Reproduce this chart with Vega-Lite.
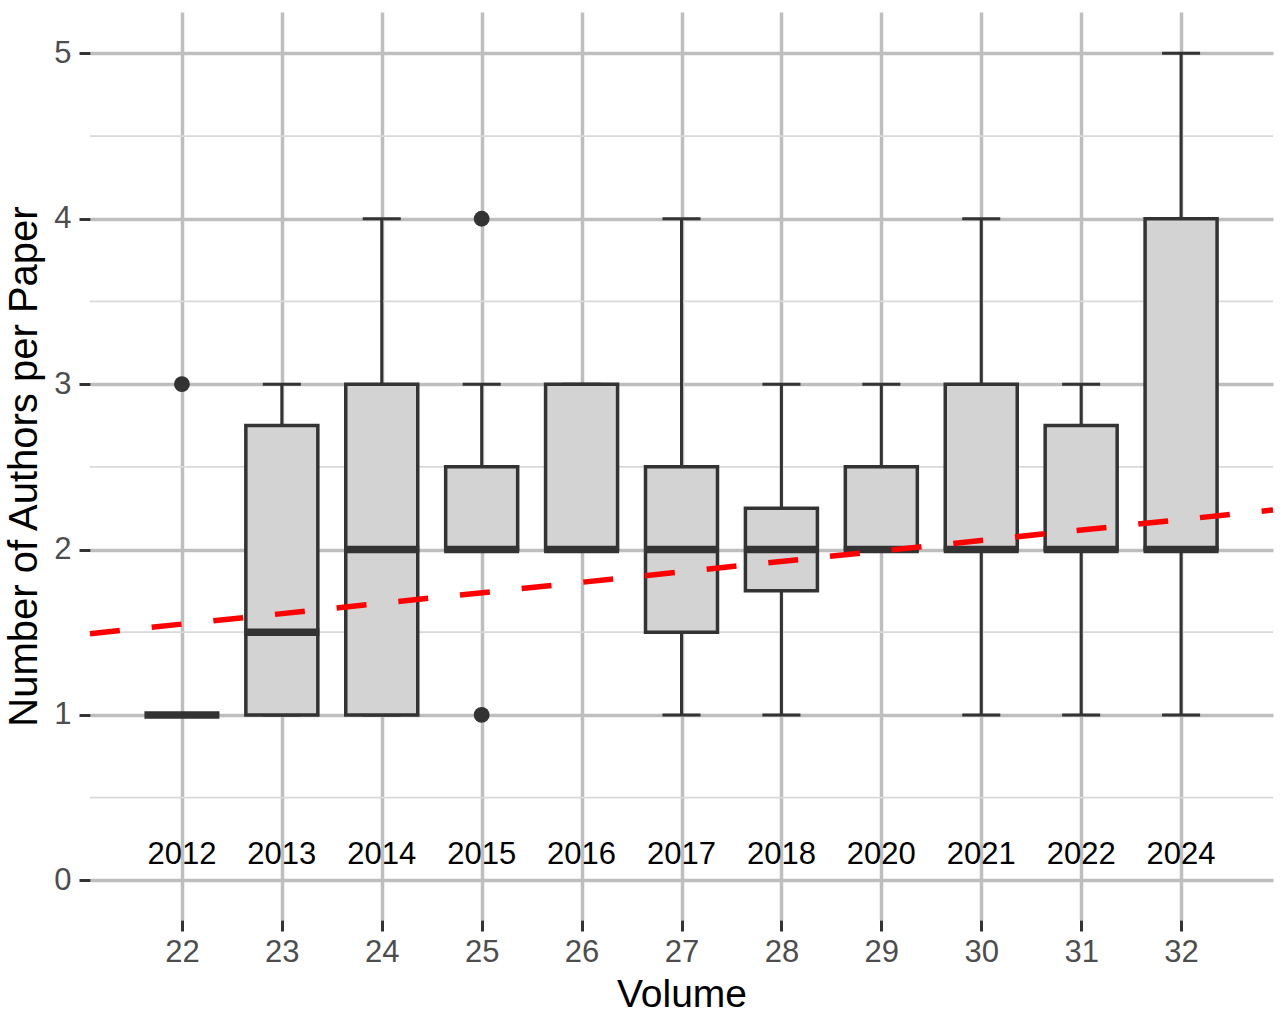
{
  "$schema": "https://vega.github.io/schema/vega-lite/v6.json",
  "width": 1183,
  "height": 908,
  "autosize": {"type": "none"},
  "padding": {"left": 90, "top": 12, "right": 12, "bottom": 96},
  "background": "white",
  "datasets": {
    "boxes": [
      {"volume": 22, "year": "2012", "lower": 1, "q1": 1, "median": 1, "q3": 1, "upper": 1},
      {"volume": 23, "year": "2013", "lower": 1, "q1": 1, "median": 1.5, "q3": 2.75, "upper": 3},
      {"volume": 24, "year": "2014", "lower": 1, "q1": 1, "median": 2, "q3": 3, "upper": 4},
      {"volume": 25, "year": "2015", "lower": 2, "q1": 2, "median": 2, "q3": 2.5, "upper": 3},
      {"volume": 26, "year": "2016", "lower": 2, "q1": 2, "median": 2, "q3": 3, "upper": 3},
      {"volume": 27, "year": "2017", "lower": 1, "q1": 1.5, "median": 2, "q3": 2.5, "upper": 4},
      {"volume": 28, "year": "2018", "lower": 1, "q1": 1.75, "median": 2, "q3": 2.25, "upper": 3},
      {"volume": 29, "year": "2020", "lower": 2, "q1": 2, "median": 2, "q3": 2.5, "upper": 3},
      {"volume": 30, "year": "2021", "lower": 1, "q1": 2, "median": 2, "q3": 3, "upper": 4},
      {"volume": 31, "year": "2022", "lower": 1, "q1": 2, "median": 2, "q3": 2.75, "upper": 3},
      {"volume": 32, "year": "2024", "lower": 1, "q1": 2, "median": 2, "q3": 4, "upper": 5}
    ],
    "outliers": [
      {"volume": 22, "authors": 3},
      {"volume": 25, "authors": 4},
      {"volume": 25, "authors": 1}
    ],
    "trend": [
      {"volume": 21.08, "fit": 1.491},
      {"volume": 32.92, "fit": 2.239}
    ],
    "minor": [
      {"authors": 0.5}, {"authors": 1.5}, {"authors": 2.5}, {"authors": 3.5}, {"authors": 4.5}
    ]
  },
  "layer": [
    {
      "data": {"name": "minor"},
      "mark": {"type": "rule", "color": "#D9D9D9", "strokeWidth": 1.8},
      "encoding": {
        "y": {"field": "authors", "type": "quantitative", "title": "Number of Authors per Paper",
              "scale": {"domain": [-0.24, 5.25], "nice": false, "zero": false, "padding": 0},
              "axis": {"values": [0, 1, 2, 3, 4, 5], "format": "d"}}
      }
    },
    {
      "data": {"name": "boxes"},
      "mark": {"type": "rule", "color": "#333333", "strokeWidth": 3},
      "encoding": {
        "x": {"field": "volume", "type": "quantitative", "title": "Volume",
              "scale": {"domain": [21.08, 32.92], "nice": false, "zero": false, "padding": 0},
              "axis": {"values": [22, 23, 24, 25, 26, 27, 28, 29, 30, 31, 32], "format": "d"}},
        "y": {"field": "lower", "type": "quantitative", "title": "Number of Authors per Paper"},
        "y2": {"field": "upper"}
      }
    },
    {
      "data": {"name": "boxes"},
      "mark": {"type": "tick", "orient": "horizontal", "color": "#333333", "size": 38, "thickness": 3, "opacity": 1},
      "encoding": {
        "x": {"field": "volume", "type": "quantitative", "title": "Volume"},
        "y": {"field": "upper", "type": "quantitative", "title": "Number of Authors per Paper"}
      }
    },
    {
      "data": {"name": "boxes"},
      "mark": {"type": "tick", "orient": "horizontal", "color": "#333333", "size": 38, "thickness": 3, "opacity": 1},
      "encoding": {
        "x": {"field": "volume", "type": "quantitative", "title": "Volume"},
        "y": {"field": "lower", "type": "quantitative", "title": "Number of Authors per Paper"}
      }
    },
    {
      "data": {"name": "boxes"},
      "mark": {"type": "bar", "width": 72, "fill": "#D3D3D3", "stroke": "#333333", "strokeWidth": 3.5},
      "encoding": {
        "x": {"field": "volume", "type": "quantitative", "title": "Volume"},
        "y": {"field": "q1", "type": "quantitative", "title": "Number of Authors per Paper"},
        "y2": {"field": "q3"}
      }
    },
    {
      "data": {"name": "boxes"},
      "mark": {"type": "tick", "orient": "horizontal", "color": "#333333", "size": 75, "thickness": 7.5, "opacity": 1},
      "encoding": {
        "x": {"field": "volume", "type": "quantitative", "title": "Volume"},
        "y": {"field": "median", "type": "quantitative", "title": "Number of Authors per Paper"}
      }
    },
    {
      "data": {"name": "outliers"},
      "mark": {"type": "circle", "color": "#333333", "size": 250, "opacity": 1},
      "encoding": {
        "x": {"field": "volume", "type": "quantitative", "title": "Volume"},
        "y": {"field": "authors", "type": "quantitative", "title": "Number of Authors per Paper"}
      }
    },
    {
      "data": {"name": "trend"},
      "mark": {"type": "line", "color": "#FF0000", "strokeWidth": 5.5, "strokeDash": [30, 32]},
      "encoding": {
        "x": {"field": "volume", "type": "quantitative", "title": "Volume"},
        "y": {"field": "fit", "type": "quantitative", "title": "Number of Authors per Paper"}
      }
    },
    {
      "data": {"name": "boxes"},
      "mark": {"type": "text", "font": "Liberation Sans", "fontSize": 31, "color": "#000000", "baseline": "middle", "align": "center"},
      "encoding": {
        "x": {"field": "volume", "type": "quantitative", "title": "Volume"},
        "y": {"datum": 0.155, "type": "quantitative", "title": "Number of Authors per Paper"},
        "text": {"field": "year"}
      }
    }
  ],
  "config": {
    "view": {"stroke": null},
    "font": "Liberation Sans",
    "axis": {
      "domain": false,
      "grid": true,
      "gridColor": "#BEBEBE",
      "gridWidth": 3.5,
      "ticks": true,
      "tickColor": "#333333",
      "tickWidth": 3,
      "tickSize": 11,
      "labelFont": "Liberation Sans",
      "labelFontSize": 31,
      "labelColor": "#4D4D4D",
      "titleFont": "Liberation Sans",
      "titleFontSize": 39,
      "titleFontWeight": "normal",
      "titleColor": "#000000"
    },
    "axisX": {"labelPadding": 6, "titlePadding": 8},
    "axisY": {"labelPadding": 8, "titlePadding": 9, "titleFontSize": 40}
  }
}
